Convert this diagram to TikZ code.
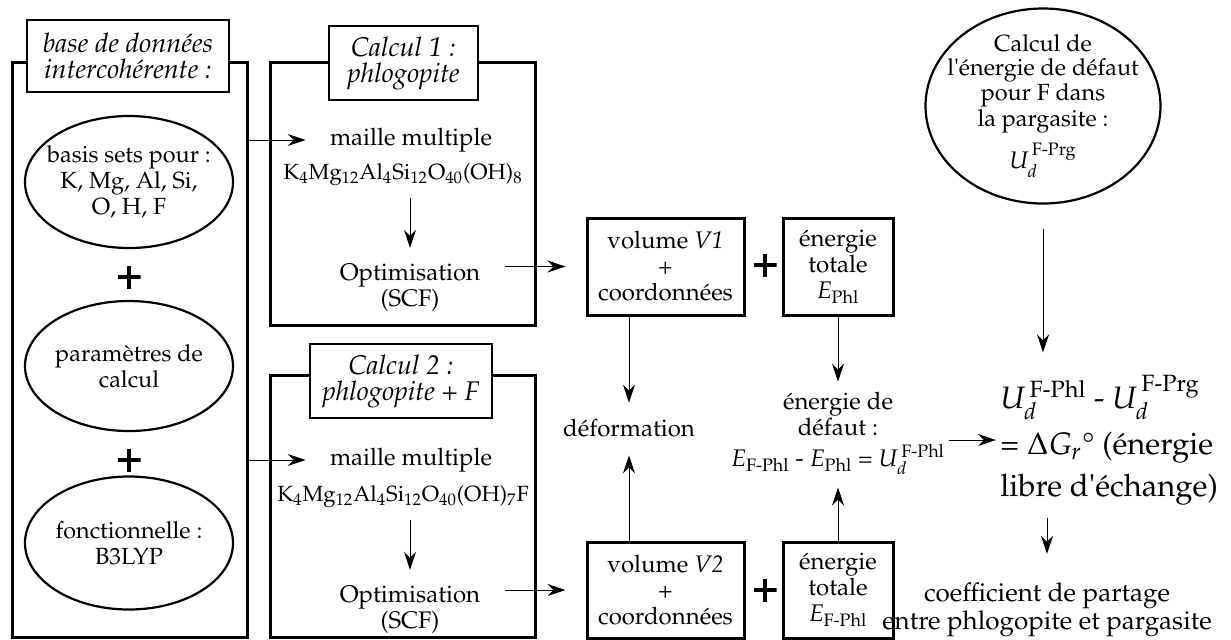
\documentclass[tikz,border=0pt]{standalone}
\usepackage[T1]{fontenc}
\usepackage{mathpazo}
\usepackage{amsmath}
\usetikzlibrary{arrows.meta,shapes.geometric}
\tikzset{
  every node/.style={font=\fontsize{12}{13}\selectfont, align=center, inner sep=2pt},
  frame/.style={draw, line width=1.5pt, inner sep=0pt},
  titlebox/.style={draw, line width=0.7pt, fill=white, inner sep=0pt, font=\fontsize{13.5}{13}\selectfont\itshape},
  ell/.style={draw, ellipse, line width=1.1pt, inner sep=-14pt, font=\fontsize{11.7}{13}\selectfont},
  formula/.style={font=\fontsize{11}{13}\selectfont},
  arr/.style={-{Stealth[length=9pt,width=6pt,inset=3pt]}, line width=0.5pt},
  plussign/.style={minimum size=11.5pt, inner sep=0pt,
    path picture={\draw[line width=1.6pt]
      (path picture bounding box.west) -- (path picture bounding box.east)
      (path picture bounding box.north) -- (path picture bounding box.south);}},
  bigtext/.style={font=\fontsize{15.5}{21}\selectfont},
  ucalctext/.style={font=\fontsize{11.7}{11.7}\selectfont},
  coeftext/.style={font=\fontsize{13}{12.5}\selectfont}
}
\begin{document}
\begin{tikzpicture}[x=0.5pt,y=-0.5pt]
\useasboundingbox (0,0) rectangle (1231,639);

% left column
\node[frame, minimum width=117.5pt, minimum height=287.5pt] (lbox) at (129.5,349.5) {};
\node[titlebox, minimum width=101pt, minimum height=36pt] (ltitle) at (128,56) {base de données\\intercohérente :};
\node[ell, minimum width=104pt, minimum height=66pt] (e1) at (129,182) {basis sets pour :\\K, Mg, Al, Si,\\O, H, F};
\node[plussign] (p1) at (129,277) {};
\node[ell, minimum width=104pt, minimum height=65pt] (e2) at (129,366) {paramètres de\\calcul};
\node[plussign] (p2) at (129,460) {};
\node[ell, minimum width=104pt, minimum height=66.5pt] (e3) at (129,543) {fonctionnelle :\\B3LYP};

% calcul 1
\node[frame, minimum width=132.5pt, minimum height=131.5pt] (c1box) at (402.5,193.5) {};
\node[titlebox, minimum width=74.5pt, minimum height=37pt] (c1title) at (403.5,63) {Calcul 1 :\\phlogopite};
\node (mm1) at (411,140) {maille multiple};
\node[formula] (f1) at (403,175) {K$_4$Mg$_{12}$Al$_4$Si$_{12}$O$_{40}$(OH)$_8$};
\node (opt1) at (410,288) {Optimisation\\(SCF)};

% calcul 2
\node[frame, minimum width=132.5pt, minimum height=131pt] (c2box) at (402.5,506) {};
\node[titlebox, minimum width=91pt, minimum height=37pt] (c2title) at (401,381) {Calcul 2 :\\phlogopite + F};
\node (mm2) at (411,460) {maille multiple};
\node[formula] (f2) at (403,497) {K$_4$Mg$_{12}$Al$_4$Si$_{12}$O$_{40}$(OH)$_7$F};
\node (opt2) at (410,610) {Optimisation\\(SCF)};

% results boxes
\node[frame, minimum width=78.5pt, minimum height=48.5pt] (v1) at (665.5,266.5) {volume \textit{V1}\\+\\coordonnées};
\node[plussign] (p3) at (765,265) {};
\node[frame, minimum width=55pt, minimum height=48.5pt] (eb1) at (838,266.5) {énergie\\totale\\$E_{\text{Phl}}$};
\node[frame, minimum width=78.5pt, minimum height=48pt] (v2) at (665.5,590) {volume \textit{V2}\\+\\coordonnées};
\node[plussign] (p4) at (765,590) {};
\node[frame, minimum width=55pt, minimum height=48pt] (eb2) at (838,590) {énergie\\totale\\$E_{\text{F-Phl}}$};

\node (def) at (629,428) {déformation};
\node (dtext) at (838,414) {énergie de\\défaut :};
\node (dform) at (838,460) {$E_{\text{F-Phl}}$ - $E_{\text{Phl}}$ = $U_d^{\,\text{F-Phl}}$};

% right column
\node[ell, ucalctext, minimum width=117.5pt, minimum height=97.5pt] (ucalc) at (1043,106) {Calcul de\\l\textquotesingle énergie de défaut\\pour F dans\\la pargasite :\\[4pt]{\large $U_d^{\,\text{F-Prg}}$}};
\node[bigtext, anchor=west, align=left] (res) at (996,440) {$U_d^{\,\text{F-Phl}}$ - $U_d^{\,\text{F-Prg}}$\\[2pt]= $\Delta G_r$\textdegree{} (énergie\\libre d\textquotesingle échange)};
\node[coeftext, anchor=south] (coef) at (1047,641) {coefficient de partage\\entre phlogopite et pargasite};

% connectors
\draw[arr, shorten >=10pt] (lbox.east |- mm1) -- (mm1.west);
\draw[arr, shorten >=10pt] (lbox.east |- mm2) -- (mm2.west);
\draw[arr, shorten <=4pt, shorten >=6pt] (f1.south -| opt1) -- (opt1);
\draw[arr, shorten <=4pt, shorten >=6pt] (f2.south -| opt2) -- (opt2);
\draw[arr, shorten <=10pt, shorten >=10pt] (opt1.east |- v1) -- (v1.west);
\draw[arr, shorten <=10pt, shorten >=10pt] (opt2.east |- v2) -- (v2.west);
\draw[arr, shorten >=6pt] (v1.south -| def) -- (def);
\draw[arr, shorten >=7pt] (v2.north -| def) -- (def);
\draw[arr, shorten >=3pt] (eb1) -- (dtext);
\draw[arr, shorten >=4pt] (eb2) -- (dform);
\draw[arr] (dform.east |- res.west) -- (res.west);
\draw[arr, shorten <=12pt, shorten >=9pt] (ucalc.south) -- (ucalc.south |- res.north);
\draw[arr, shorten <=4pt, shorten >=12pt] (coef.north |- res.south) -- (coef.north);
\end{tikzpicture}
\end{document}
